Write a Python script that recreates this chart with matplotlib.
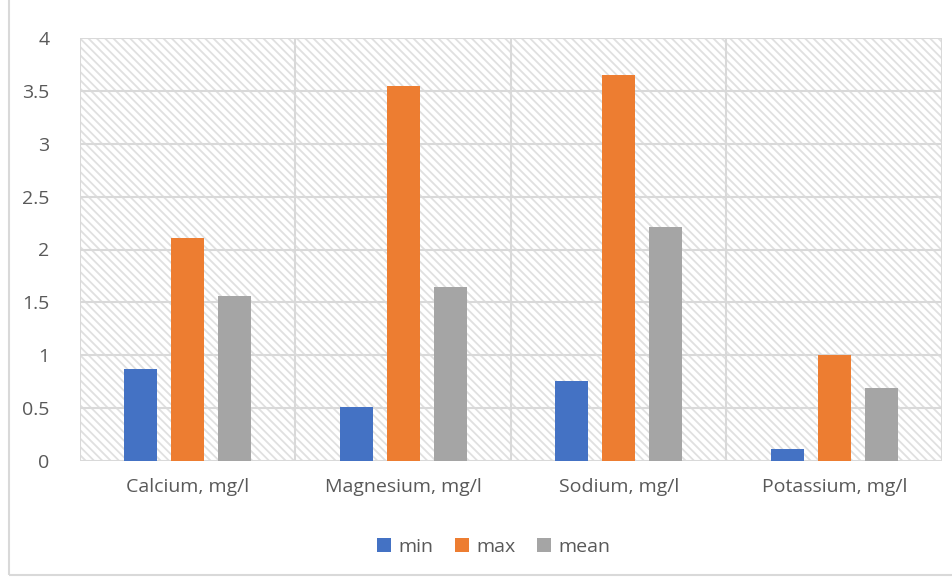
import matplotlib

matplotlib.use("Agg")
import matplotlib.pyplot as plt
import numpy as np
from matplotlib.patches import Rectangle

# Datos: concentraciones por elemento (mg/l)
categorias = ["Calcium, mg/l", "Magnesium, mg/l", "Sodium, mg/l", "Potassium, mg/l"]
valores_min = [0.87, 0.51, 0.76, 0.11]
valores_max = [2.11, 3.55, 3.65, 1.00]
valores_mean = [1.56, 1.65, 2.21, 0.69]
series = ["min", "max", "mean"]
yticks = [0, 0.5, 1, 1.5, 2, 2.5, 3, 3.5, 4]

colores = ["#4472C4", "#ED7D31", "#A5A5A5"]
gris_grid = "#D9D9D9"
gris_texto = "#595959"

plt.rcParams["font.family"] = ["Open Sans", "DejaVu Sans"]
plt.rcParams["hatch.linewidth"] = 1.3

fig = plt.figure(figsize=(9.53, 5.78), dpi=100)
ax = fig.add_axes([80 / 953, 1 - 461 / 578, 862 / 953, 423 / 578])

# fondo rayado del area de trazado
fondo = Rectangle((0, 0), 1, 1, transform=ax.transAxes, facecolor="white",
                  edgecolor="#E0E0E0", hatch="\\\\\\\\", linewidth=0, zorder=0)
ax.add_patch(fondo)
ax.patch.set_visible(False)

x = np.arange(len(categorias))
ancho = 0.153
paso = 0.218
for i, (nombre, vals) in enumerate(zip(series, [valores_min, valores_max, valores_mean])):
    ax.bar(x + (i - 1) * paso, vals, ancho, color=colores[i], label=nombre, zorder=3)

ax.set_xlim(-0.5, len(categorias) - 0.5)
ax.set_ylim(0, 4)
ax.set_yticks(yticks)
ax.set_yticklabels([f"{v:g}" for v in yticks])
ax.set_xticks(x)
ax.set_xticklabels(categorias)

for v in yticks:
    ax.axhline(v, color=gris_grid, linewidth=1.5, zorder=1)
for b in np.arange(-0.5, len(categorias), 1.0):
    ax.axvline(b, color=gris_grid, linewidth=1.5, zorder=1)

for lado in ax.spines.values():
    lado.set_visible(False)
ax.tick_params(axis="both", length=0, colors=gris_texto, labelsize=14)
ax.tick_params(axis="y", pad=22)
ax.tick_params(axis="x", pad=12)

leg = fig.legend(loc="center", bbox_to_anchor=(494 / 953, 1 - 547 / 578), ncol=3,
                 frameon=False, fontsize=14, handlelength=0.7, handleheight=0.7,
                 handletextpad=0.4, columnspacing=1.1, labelcolor=gris_texto)

# borde del area del grafico
borde = Rectangle((9.5 / 953, 3 / 578), 1.2, 1.2, transform=fig.transFigure,
                  facecolor="none", edgecolor=gris_grid, linewidth=1.5)
fig.patches.append(borde)

fig.savefig("out.png", dpi=100)
